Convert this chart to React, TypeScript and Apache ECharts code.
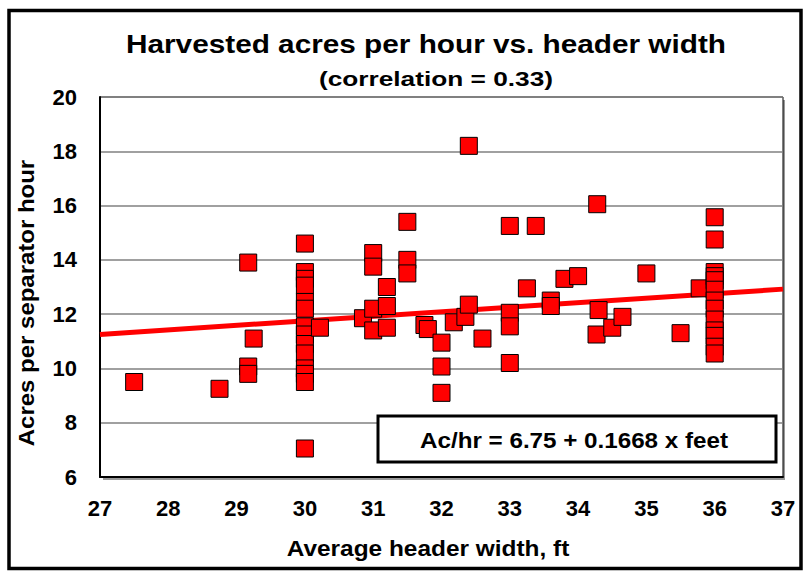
import React, { useEffect, useRef } from "react";
import * as echarts from "echarts";

const TITLE = "Harvested acres per hour vs. header width";
const SUBTITLE = "(correlation = 0.33)";
const X_NAME = "Average header width, ft";
const Y_NAME = "Acres per separator hour";
const EQUATION = "Ac/hr = 6.75 + 0.1668 x feet";
const INTERCEPT = 6.75;
const SLOPE = 0.1668;
const X_MIN = 27;
const X_MAX = 37;
const Y_MIN = 6;
const Y_MAX = 20;

const widths: number[] = [
  27.5, 28.75, 29.17, 29.25, 29.17, 29.17,
  30, 30, 30, 30, 30, 30, 30, 30, 30, 30, 30, 30, 30, 30,
  30.22, 30.85, 31.0, 31.0, 31.0, 31.0, 31.2, 31.2, 31.2,
  31.5, 31.5, 31.5, 31.75, 31.8, 32.0, 32.0, 32.0, 32.18,
  32.35, 32.4, 32.4, 32.6, 33.0, 33.0, 33.0, 33.0, 33.25,
  33.38, 33.6, 33.6, 33.8, 34.0, 34.28, 34.3, 34.27, 34.5,
  34.65, 35.0, 35.5, 35.78,
  36, 36, 36, 36, 36, 36, 36, 36, 36, 36, 36, 36, 36,
];
const acresPerHour: number[] = [
  9.5, 9.25, 13.9, 11.1, 10.07, 9.8,
  14.6, 13.55, 13.3, 13.05, 12.45, 12.2, 11.55, 11.25, 10.9, 10.55, 10.0, 9.8, 9.5, 7.05,
  11.5, 11.85, 14.25, 13.75, 12.2, 11.4, 13.0, 12.3, 11.5,
  15.4, 14.0, 13.5, 11.6, 11.45, 10.95, 10.07, 9.1, 11.7,
  11.9, 12.35, 18.2, 11.1, 15.25, 12.05, 11.55, 10.2, 12.95,
  15.25, 12.5, 12.3, 13.3, 13.4, 16.05, 12.15, 11.25, 11.5,
  11.9, 13.5, 11.3, 12.95,
  15.57, 14.75, 13.55, 13.4, 13.25, 12.9, 12.5, 12.2, 11.8, 11.4, 11.2, 10.8, 10.55,
];

const FONT = "'Liberation Sans', Arial, sans-serif";

export default function App() {
  const ref = useRef<HTMLDivElement>(null);
  useEffect(() => {
    document.body.style.margin = "0";
    if (!ref.current) return;
    const chart = echarts.init(ref.current, null, { renderer: "svg" });
    const points = widths.map((w, i) => [w, acresPerHour[i]]);
    const trend = [
      [X_MIN, INTERCEPT + SLOPE * X_MIN],
      [X_MAX, INTERCEPT + SLOPE * X_MAX],
    ];
    const txt = (text: string, x: number, y: number, size: number, sx: number, extra: any = {}) => ({
      type: "text",
      z: 101,
      x,
      y,
      scaleX: sx,
      ...extra,
      style: {
        text,
        fill: "#000",
        font: `bold ${size}px ${FONT}`,
        textAlign: "center",
        textVerticalAlign: "middle",
      },
    });
    chart.setOption({
      animation: false,
      backgroundColor: "#ffffff",
      grid: {
        left: 100,
        right: 21,
        top: 97,
        bottom: 95,
        show: true,
        backgroundColor: "#ffffff",
        borderColor: "#000000",
        borderWidth: 1,
      },
      xAxis: {
        type: "value",
        min: X_MIN,
        max: X_MAX,
        interval: 1,
        axisLine: { show: true, onZero: false, lineStyle: { color: "#000", width: 2 } },
        axisTick: { show: false },
        splitLine: { show: false },
        axisLabel: { fontSize: 22, fontWeight: "bold", color: "#000", fontFamily: FONT, margin: 20 },
      },
      yAxis: {
        type: "value",
        min: Y_MIN,
        max: Y_MAX,
        interval: 2,
        axisLine: { show: true, onZero: false, lineStyle: { color: "#000", width: 2 } },
        axisTick: { show: false },
        splitLine: { show: true, lineStyle: { color: "#808080", width: 1.5 } },
        axisLabel: { fontSize: 22, fontWeight: "bold", color: "#000", fontFamily: FONT, margin: 23 },
      },
      series: [
        {
          type: "line",
          data: trend,
          symbol: "none",
          lineStyle: { color: "#ff0000", width: 5 },
          z: 2,
        },
        {
          type: "scatter",
          data: points,
          symbol: "rect",
          symbolSize: 17,
          itemStyle: { color: "#ff0000", borderColor: "#000000", borderWidth: 1, opacity: 1 },
          z: 3,
        },
      ],
      graphic: [
        {
          type: "rect",
          z: -10,
          shape: { x: 103, y: 100, width: 682, height: 380 },
          style: { fill: "#9a9a9a" },
          silent: true,
        },
        {
          type: "rect",
          z: 100,
          shape: { x: 9, y: 10.5, width: 792, height: 558 },
          style: { fill: "none", stroke: "#000000", lineWidth: 3.5 },
          silent: true,
        },
        txt(TITLE, 426, 44, 25, 1.19),
        txt(SUBTITLE, 436, 78, 21, 1.25),
        txt(X_NAME, 428, 548, 22, 1.11),
        txt(Y_NAME, 26, 303, 22, 1.09, { rotation: Math.PI / 2 }),
        {
          type: "rect",
          z: 100,
          shape: { x: 378, y: 416, width: 398, height: 46 },
          style: { fill: "#ffffff", stroke: "#000000", lineWidth: 3 },
        },
        txt(EQUATION, 574, 440, 22, 1.1),
      ],
    });
    return () => chart.dispose();
  }, []);
  return <div ref={ref} style={{ width: 804, height: 572 }} />;
}
